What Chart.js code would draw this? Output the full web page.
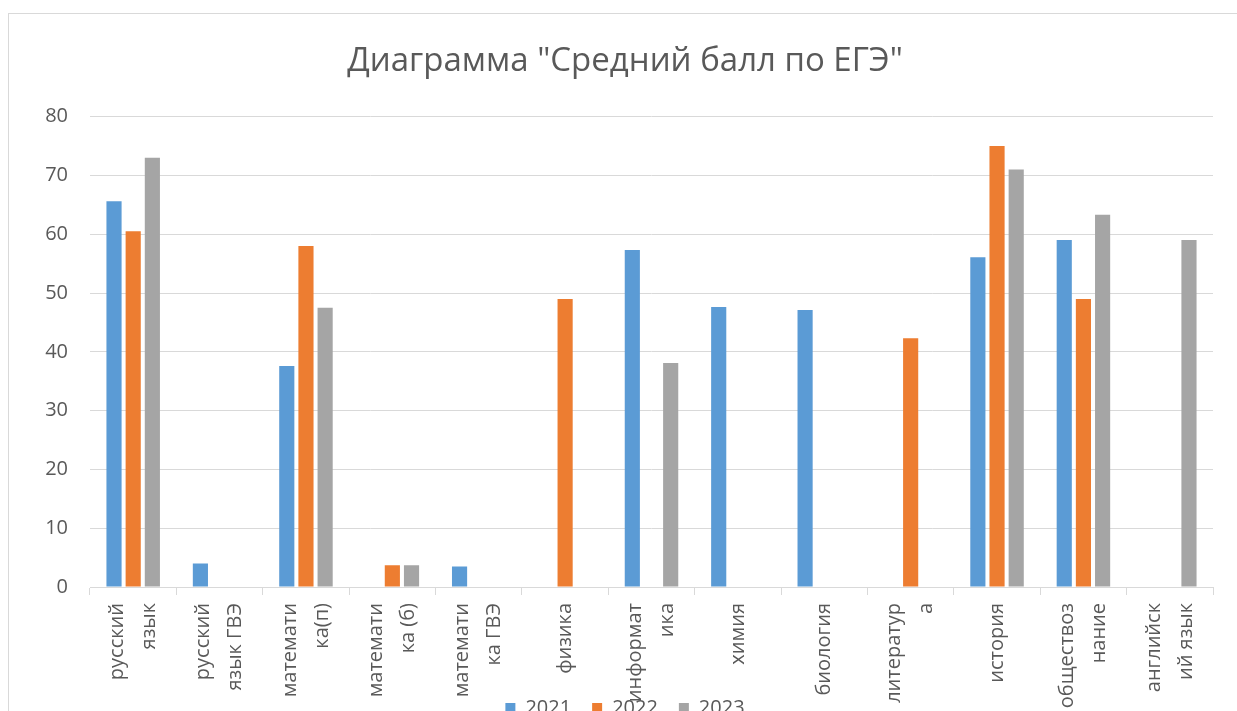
<!DOCTYPE html>
<html>
<head>
<meta charset="utf-8">
<script src="https://cdn.jsdelivr.net/npm/chart.js@4.4.0/dist/chart.umd.min.js"></script>
<style>
  html, body { margin: 0; padding: 0; background: #fff; overflow: hidden; }
  #frame {
    position: absolute; left: 8px; top: 13px; width: 1300px; height: 800px;
    border: 1px solid #d9d9d9; box-sizing: border-box;
  }
  #wrap { position: absolute; left: 0; top: 0; width: 1237px; height: 728px; }
</style>
</head>
<body>
<div id="frame"></div>
<div id="wrap"><canvas id="egeChart"></canvas></div>
<script>

//   <------------ Data ------------->

const categories = [
  ['русский', 'язык'],
  ['русский', 'язык ГВЭ'],
  ['математи', 'ка(п)'],
  ['математи', 'ка (б)'],
  ['математи', 'ка ГВЭ'],
  ['физика'],
  ['информат', 'ика'],
  ['химия'],
  ['биология'],
  ['литератур', 'а'],
  ['история'],
  ['обществоз', 'нание'],
  ['английск', 'ий язык']
];

const years = ['2021', '2022', '2023'];

const scores2021 = [65.6, 4.0, 37.6, null, 3.5, null, 57.3, 47.6, 47.1, null, 56.1, 59.0, null];
const scores2022 = [60.5, null, 58.0, 3.7, null, 49.0, null, null, null, 42.3, 75.0, 49.0, null];
const scores2023 = [73.0, null, 47.5, 3.7, null, null, 38.1, null, null, null, 71.0, 63.3, 59.0];

const yTicks = [0, 10, 20, 30, 40, 50, 60, 70, 80];

const textColor = '#595959';
const gridColor = '#d9d9d9';


//   <------------ Category labels (rotated, centred on the tick) ------------->

const xLabels = {
  id: 'xLabels',
  afterDraw(chart) {
    const scale = chart.scales.x;
    const ctx = chart.ctx;
    const lineGap = 32;
    ctx.save();
    ctx.font = '20px "Open Sans"';
    ctx.fillStyle = textColor;
    ctx.textAlign = 'right';
    ctx.textBaseline = 'middle';
    categories.forEach((lines, i) => {
      const x = scale.getPixelForTick(i);
      lines.forEach((line, j) => {
        ctx.save();
        ctx.translate(x + (j - (lines.length - 1) / 2) * lineGap, scale.top + 16);
        ctx.rotate(-Math.PI / 2);
        ctx.fillText(line, 0, 0);
        ctx.restore();
      });
    });
    ctx.restore();
  }
};


//   <------------ Chart ------------->

const ctx = document.getElementById('egeChart').getContext('2d');

const config = {
  type: 'bar',
  data: {
    labels: categories.map(c => c.join(' ')),
    datasets: [
      { label: years[0], data: scores2021, backgroundColor: '#5b9bd5' },
      { label: years[1], data: scores2022, backgroundColor: '#ed7d31' },
      { label: years[2], data: scores2023, backgroundColor: '#a5a5a5' }
    ].map(d => Object.assign(d, {
      borderWidth: 0,
      categoryPercentage: 0.666,
      barPercentage: 0.79
    }))
  },
  options: {
    responsive: true,
    maintainAspectRatio: false,
    animation: false,
    layout: { padding: { left: 37, right: 24, top: 0, bottom: 0 } },
    plugins: {
      title: {
        display: true,
        text: 'Диаграмма "Средний балл по ЕГЭ"',
        color: textColor,
        font: { family: 'Open Sans', size: 33, weight: 'normal' },
        padding: { top: 42, bottom: 35 }
      },
      legend: {
        position: 'bottom',
        labels: {
          color: textColor,
          font: { family: 'Open Sans', size: 20 },
          boxWidth: 10,
          boxHeight: 10,
          padding: 21
        }
      },
      tooltip: { enabled: false }
    },
    scales: {
      x: {
        afterFit: scale => { scale.height = 90; },
        ticks: { display: false },
        grid: { drawOnChartArea: false, drawTicks: true, tickLength: 8, color: gridColor },
        border: { display: true, color: gridColor }
      },
      y: {
        min: 0,
        max: 80,
        afterFit: scale => { scale.width = 53; },
        afterBuildTicks: scale => { scale.ticks = yTicks.map(v => ({ value: v })); },
        ticks: {
          color: textColor,
          font: { family: 'Open Sans', size: 20 },
          padding: 22
        },
        grid: { color: gridColor, drawTicks: false },
        border: { display: false }
      }
    }
  },
  plugins: [xLabels]
};

var egeChart = new Chart(ctx, config);

</script>
</body>
</html>
